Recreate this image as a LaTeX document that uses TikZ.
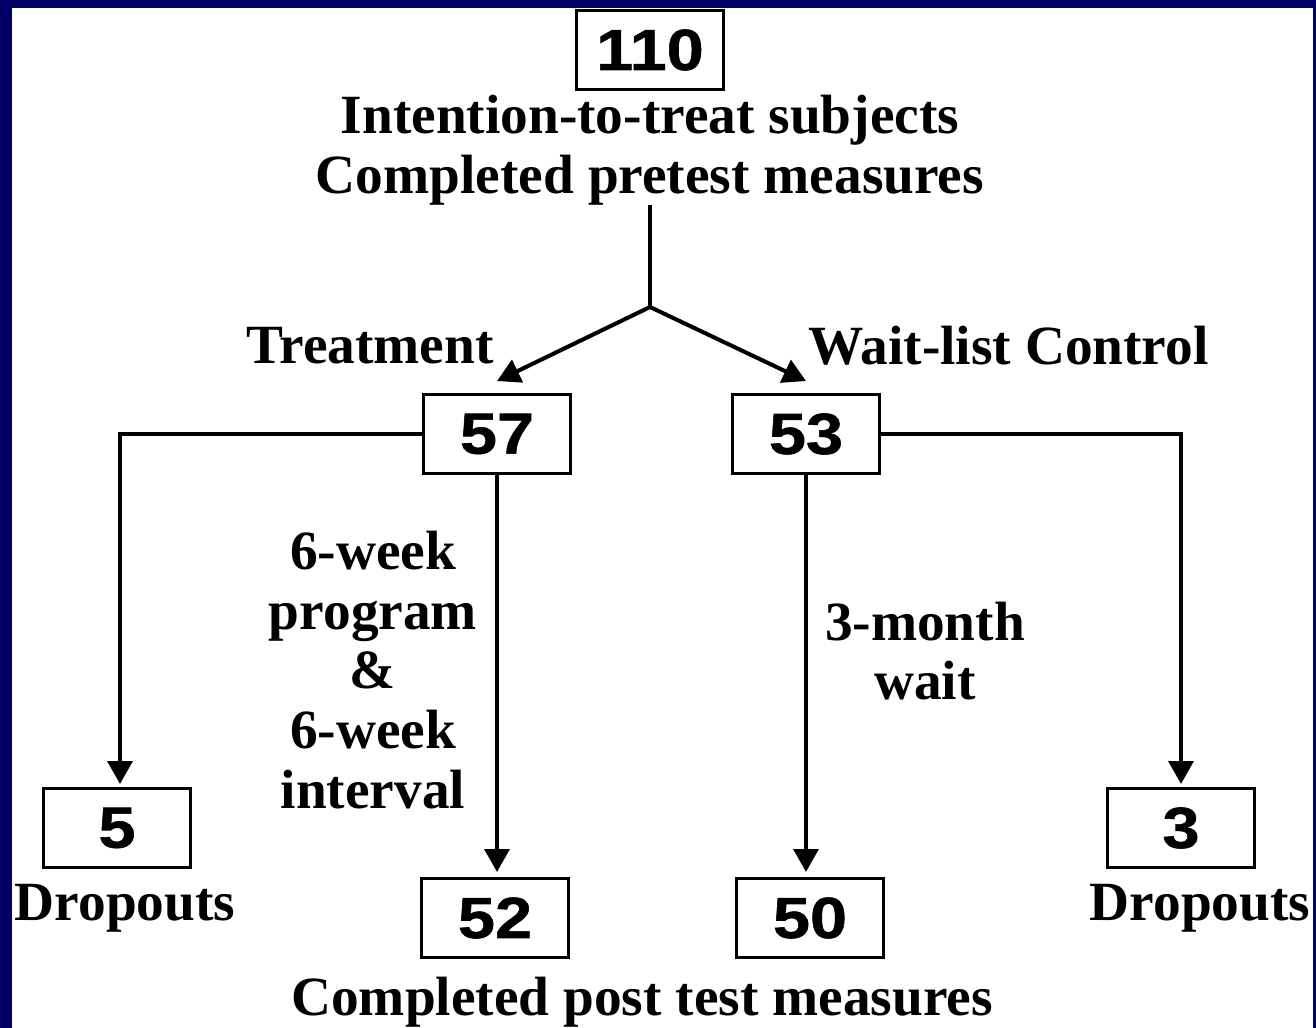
\documentclass[tikz,border=0pt]{standalone}
\usepackage{fontspec}
\setmainfont{Liberation Serif}
\newfontfamily\digits[FakeStretch=1.15,FakeBold=1]{Liberation Sans}
\usetikzlibrary{arrows.meta,calc}
\definecolor{navy}{HTML}{000066}
\definecolor{ink}{HTML}{000000}

\begin{document}
\begin{tikzpicture}[x=.02cm,y=-.02cm,
  every node/.style={text=ink,inner sep=0pt},
  tally/.style={draw=ink,line width=1.7pt,fill=white,minimum width=2.94cm,
    minimum height=1.58cm,font=\digits\bfseries\fontsize{33}{33}\selectfont},
  caption/.style={font=\bfseries\fontsize{31.5}{34}\selectfont,align=center},
  stem/.style={draw=ink,line width=2.3pt},
  flow/.style={stem,-{Triangle[length=13pt,width=14pt]}}]

% Frame: navy border on three sides, picture is in pixel units.
\fill[navy] (0,0) rectangle (1316,1028);
\fill[white] (12,8) rectangle (1313,1028);

% -------------------------------------------------------------------------
% Enrolment.
% -------------------------------------------------------------------------
\node[tally] (n110) at (650,50) {110};
\node[caption] (itt) at (650,150)
  {Intention-to-treat subjects\\Completed pretest measures};
\coordinate (fork) at (650,307);

% -------------------------------------------------------------------------
% Allocation.
% -------------------------------------------------------------------------
\node[tally] (n57) at (497,434) {57};
\node[tally] (n53) at (806,434) {53};
\node[caption,anchor=east] (treat) at (494,346) {Treatment};
\node[caption,anchor=west] (wlc) at (808,346) {Wait-list Control};

% -------------------------------------------------------------------------
% Outcome.
% -------------------------------------------------------------------------
\node[tally] (n5)  at (117,828) {5};
\node[tally] (n3)  at (1181,828) {3};
\node[tally] (n52) at (495,918) {52};
\node[tally] (n50) at (810,918) {50};
\node[caption] (drop5) at (125,908) {Dropouts};
\node[caption] (drop3) at (1200,908) {Dropouts};
\node[caption] (prog) at (373,670) {6-week\\program\\\&\\6-week\\interval};
\node[caption] (wait) at (925,651) {3-month\\wait};
\node[caption] (post) at (642,1002) {Completed post test measures};

% Connectors.
\draw[stem] (itt.south) -- (fork);
\draw[flow] (fork) -- ($(n57.north)+(0,-12)$);
\draw[flow] (fork) -- ($(n53.north)+(0,-12)$);
\draw[flow] (n57.west) -| ($(n5.north)+(3,-3)$);
\draw[flow] (n53.east) -| ($(n3.north)+(0,-3)$);
\draw[flow] (n57.south) -- ($(n57.south |- n52.north)+(0,-5)$);
\draw[flow] (n53.south) -- ($(n53.south |- n50.north)+(0,-5)$);
\end{tikzpicture}
\end{document}
